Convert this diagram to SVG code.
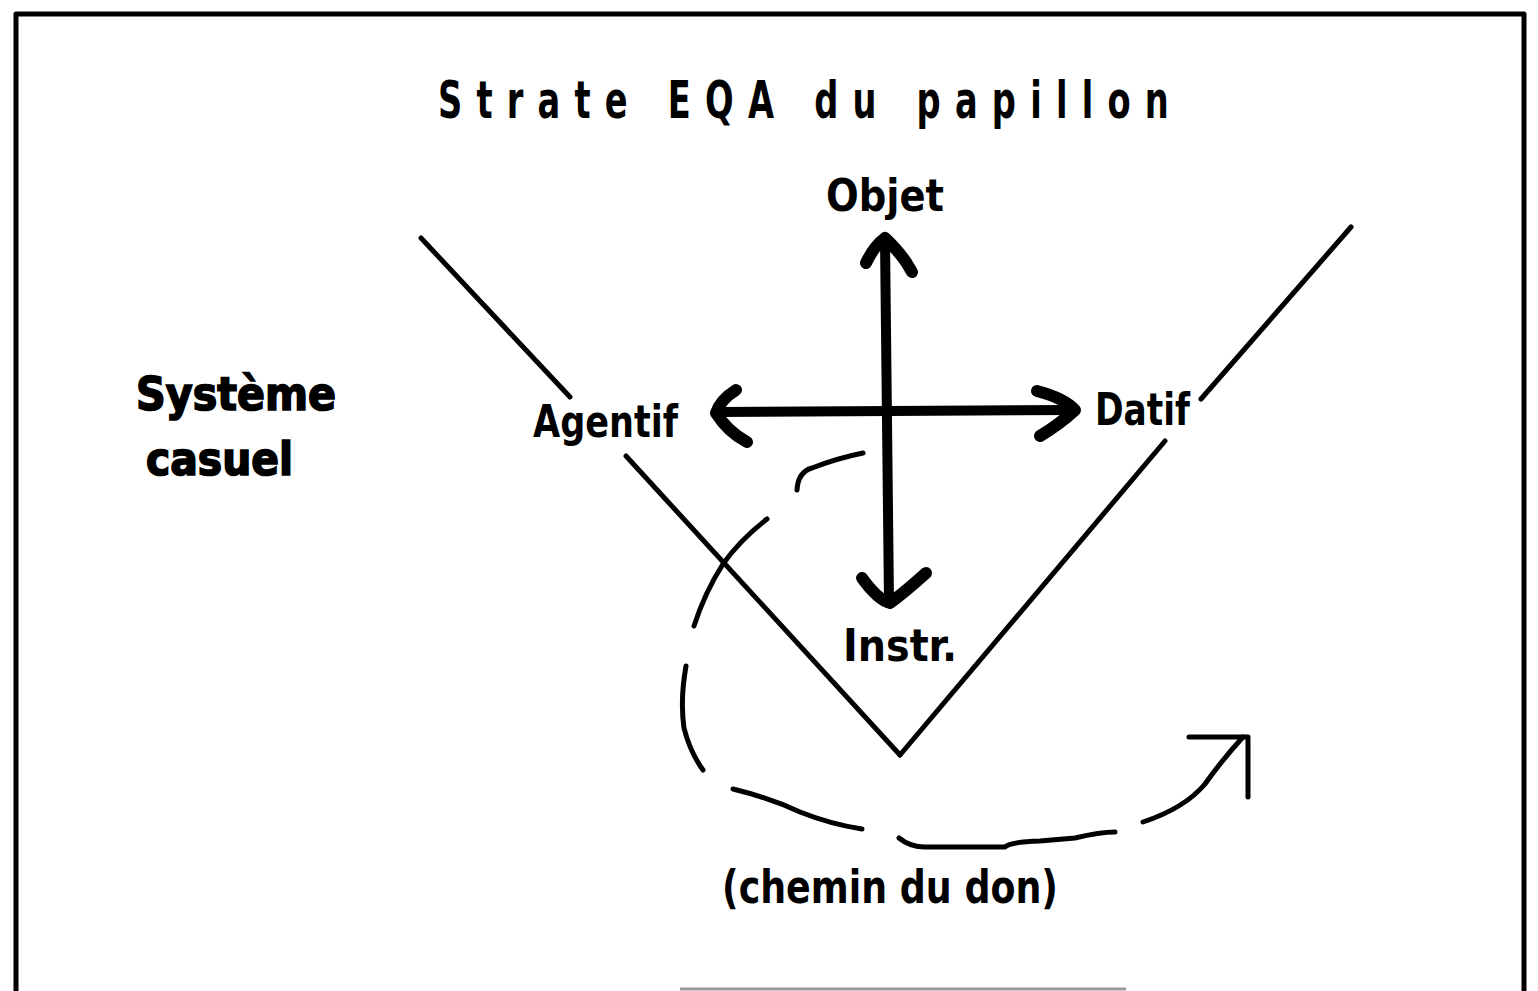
<svg xmlns="http://www.w3.org/2000/svg" width="1538" height="991" viewBox="0 0 1538 991">
  <style>
    .ln{fill:none;stroke:#000;stroke-linecap:round;stroke-linejoin:round}
    .thin{stroke-width:5}
    .shaft{stroke-width:10}
    .head{stroke-width:12}
    .lbl{font-family:"DejaVu Sans Condensed","DejaVu Sans","Liberation Sans",sans-serif;font-stretch:condensed;font-weight:bold;fill:#000}
    .heavy{stroke:#000;stroke-width:1.6}
  </style>
  <rect x="0" y="0" width="1538" height="991" fill="#fff"/>

  <!-- outer frame, open at the bottom -->
  <path id="frame" class="ln" d="M16,991 V14 H1524 V991" stroke-width="5" stroke-linecap="butt" stroke-linejoin="miter"/>
  <line x1="680" y1="989" x2="1126" y2="989" stroke="#9a9a9a" stroke-width="3"/>

  <g id="title">
    <text class="lbl" transform="translate(438,118) scale(0.72,1)" font-size="52" textLength="1015" lengthAdjust="spacing">Strate EQA du papillon</text>
  </g>

  <g id="systeme">
    <text class="lbl heavy" x="136" y="410" font-size="46" font-weight="900" textLength="200" lengthAdjust="spacingAndGlyphs">Système</text>
    <text class="lbl heavy" x="146" y="475" font-size="46" font-weight="900" textLength="147" lengthAdjust="spacingAndGlyphs">casuel</text>
  </g>

  <g id="objet"><text class="lbl" x="826" y="211" font-size="44" textLength="118" lengthAdjust="spacingAndGlyphs">Objet</text></g>
  <g id="agentif"><text class="lbl" x="533" y="437" font-size="44" textLength="145" lengthAdjust="spacingAndGlyphs">Agentif</text></g>
  <g id="datif"><text class="lbl" x="1095" y="425" font-size="44" textLength="95" lengthAdjust="spacingAndGlyphs">Datif</text></g>
  <g id="instr"><text class="lbl" x="843" y="661" font-size="44" textLength="114" lengthAdjust="spacingAndGlyphs">Instr.</text></g>
  <g id="chemin"><text class="lbl" x="722" y="903" font-size="46" textLength="336" lengthAdjust="spacingAndGlyphs">(chemin du don)</text></g>

  <g id="connectors">
    <!-- butterfly V -->
    <path class="ln thin" d="M421,238 L570,397"/>
    <path class="ln thin" d="M626,456 L900,755"/>
    <path class="ln thin" d="M1351,227 L1201,399"/>
    <path class="ln thin" d="M1165,441 L900,755"/>

    <!-- case cross: vertical axis -->
    <path class="ln shaft" d="M885,240 L889,602"/>
    <path class="ln head" d="M866,263 Q874,246 885,238 Q896,248 906,262 L912,272"/>
    <path class="ln head" d="M862,578 Q878,600 890,603 Q905,592 926,573"/>
    <!-- case cross: horizontal axis -->
    <path class="ln shaft" d="M716,412 L1074,410"/>
    <path class="ln head" d="M736,390 Q720,400 716,413 Q728,432 747,442"/>
    <path class="ln head" d="M1037,391 Q1064,398 1075,410 Q1060,424 1040,436"/>

    <!-- chemin du don: broken curved path -->
    <path class="ln thin" d="M797,490 Q798,472 812,468 Q838,458 863,453"/>
    <path class="ln thin" d="M767,519 Q740,540 723,564 Q705,592 694,626"/>
    <path class="ln thin" d="M686,666 Q680,700 684,728 Q690,752 703,770"/>
    <path class="ln thin" d="M733,789 Q770,798 800,812 Q830,824 862,829"/>
    <path class="ln thin" d="M899,838 Q910,847 925,847 L1005,847 Q1010,842 1040,841 L1075,838 Q1100,832 1115,832"/>
    <path class="ln thin" d="M1143,822 Q1185,808 1205,784 Q1222,760 1243,737"/>
    <path class="ln thin" d="M1189,737 L1248,737 L1248,797" stroke-linecap="butt" stroke-linejoin="miter"/>
  </g>
</svg>
